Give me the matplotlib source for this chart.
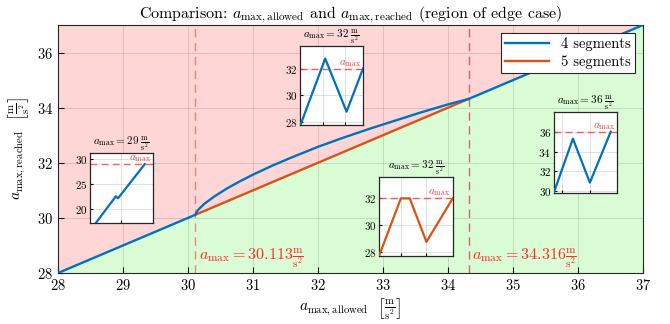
import matplotlib
matplotlib.use("Agg")
import matplotlib.pyplot as plt

plt.rcParams["font.family"] = "serif"
plt.rcParams["font.serif"] = ["cmr10", "DejaVu Serif"]
plt.rcParams["mathtext.fontset"] = "cm"
plt.rcParams["axes.formatter.use_mathtext"] = True

# main comparison data
a_allowed_4 = [28.0, 30.113, 30.15, 30.25, 30.4, 30.6, 30.8, 31.0, 31.3, 31.6, 32.0,
               32.4, 32.8, 33.2, 33.6, 34.0, 34.316, 37.0]
a_reached_4 = [28.0, 30.113, 30.28, 30.51, 30.77, 31.07, 31.33, 31.57, 31.90, 32.20, 32.58,
               32.92, 33.24, 33.54, 33.84, 34.12, 34.316, 37.0]
a_allowed_5 = [30.113, 34.316]
a_reached_5 = [30.113, 34.316]
edge_lo = 30.113
edge_hi = 34.316

# acceleration profiles shown in the small panels
prof1_t = [0.15, 0.82, 0.89, 1.74]
prof1_a = [17.0, 22.6, 22.2, 29.0]
prof1_amax = 29
prof2_t = [0.03, 1.12, 2.07, 2.80]
prof2_a = [27.8, 32.75, 28.75, 32.0]
prof2_amax = 32
prof3_t = [0.0, 0.89, 1.25, 1.93, 3.0]
prof3_a = [27.7, 32.0, 32.0, 28.75, 32.0]
prof3_amax = 32
prof4_t = [0.0, 0.69, 1.31, 2.07]
prof4_a = [29.9, 35.3, 30.85, 36.0]
prof4_amax = 36

blue = "#0072BD"
orange = "#D95319"
red_txt = "#ff2a2a"

fig = plt.figure(figsize=(6.70, 3.24), dpi=100)
ax = fig.add_axes([0.0866, 0.1574, 0.8731, 0.7654])

ax.fill([28, 28, 37], [28, 37, 37], color="#ffd6d6", zorder=0, lw=0)
ax.fill([28, 37, 37], [28, 28, 37], color="#d9fcd5", zorder=0, lw=0)

ax.axvline(edge_lo, color="#f06060", ls=(0, (6, 4)), lw=1.0, alpha=0.75, zorder=2)
ax.axvline(edge_hi, color="#c84848", ls=(0, (6, 4)), lw=1.0, alpha=0.8, zorder=2)

ax.plot(a_allowed_4, a_reached_4, color=blue, lw=1.7, label="4 segments", zorder=4)
ax.plot(a_allowed_5, a_reached_5, color=orange, lw=1.7, label="5 segments", zorder=3)

ax.set_xlim(28, 37)
ax.set_ylim(28, 37)
ax.set_xticks(range(28, 38))
ax.set_yticks(range(28, 37, 2))
ax.grid(True, color="#000000", alpha=0.12, lw=0.7)
ax.tick_params(direction="in", labelsize=10.5, length=4, top=False, right=False)
for s in ax.spines.values():
    s.set_color("#262626")
    s.set_linewidth(0.8)

ax.set_title(r"Comparison: $a_{\max,\mathrm{allowed}}$ and $a_{\max,\mathrm{reached}}$ (region of edge case)",
             fontsize=11.5, pad=5)
ax.set_xlabel(r"$a_{\max,\mathrm{allowed}}$  $\left[\frac{\mathrm{m}}{\mathrm{s}^2}\right]$", fontsize=11, labelpad=2)
ax.set_ylabel(r"$a_{\max,\mathrm{reached}}$  $\left[\frac{\mathrm{m}}{\mathrm{s}^2}\right]$", fontsize=11, labelpad=4)

leg = ax.legend(loc="upper right", fontsize=10.5, fancybox=False, framealpha=1,
                edgecolor="#262626", borderpad=0.3, handlelength=3.0, labelspacing=0.25,
                borderaxespad=0.55)
leg.get_frame().set_linewidth(0.8)
leg.set_zorder(10)

ax.text(edge_lo + 0.06, 28.12, r"$a_{\max} = 30.113\frac{\mathrm{m}}{\mathrm{s}^2}$", color=red_txt,
        fontsize=11.6, ha="left", va="bottom", zorder=5)
ax.text(edge_hi + 0.06, 28.12, r"$a_{\max} = 34.316\frac{\mathrm{m}}{\mathrm{s}^2}$", color=red_txt,
        fontsize=11.6, ha="left", va="bottom", zorder=5)


def panel(rect, t, a, amax, color, xlim, xticks, ylim, yticks, title_pad=4):
    iax = fig.add_axes(rect)
    iax.set_facecolor("white")
    iax.axhline(amax, color="#ff4040", ls=(0, (5, 3)), lw=1.0, alpha=0.85, zorder=2)
    iax.plot(t, a, color=color, lw=1.6, zorder=3)
    iax.set_xlim(*xlim)
    iax.set_ylim(*ylim)
    iax.set_xticks(xticks)
    iax.set_xticklabels([])
    iax.set_yticks(yticks)
    iax.grid(True, color="#000000", alpha=0.12, lw=0.7)
    iax.tick_params(direction="in", labelsize=8, length=2.5, pad=2)
    for s in iax.spines.values():
        s.set_color("#262626")
        s.set_linewidth(0.9)
    iax.set_title(r"$a_{\max} = %d\ \frac{\mathrm{m}}{\mathrm{s}^2}$" % amax, fontsize=8, pad=title_pad)
    iax.text(0.97, amax, r"$a_{\max}$", color="#ff4040", fontsize=8,
             transform=iax.get_yaxis_transform(), ha="right", va="bottom", zorder=4)
    return iax


panel([0.1343, 0.3117, 0.094, 0.216], prof1_t, prof1_a, prof1_amax, blue,
      (0, 2), [1], (17.3, 31.2), [20, 25, 30], title_pad=5)
panel([0.4478, 0.6142, 0.094, 0.244], prof2_t, prof2_a, prof2_amax, blue,
      (0, 2.8), [1, 2], (27.75, 33.7), [28, 30, 32])
panel([0.5657, 0.2099, 0.110, 0.244], prof3_t, prof3_a, prof3_amax, orange,
      (0, 3.0), [0.9, 1.9], (27.7, 33.6), [28, 30, 32])
panel([0.8269, 0.4043, 0.094, 0.25], prof4_t, prof4_a, prof4_amax, blue,
      (0, 2.3), [0.3, 1.31], (29.8, 38.0), [30, 32, 34, 36])

fig.savefig("out.png", dpi=100)
